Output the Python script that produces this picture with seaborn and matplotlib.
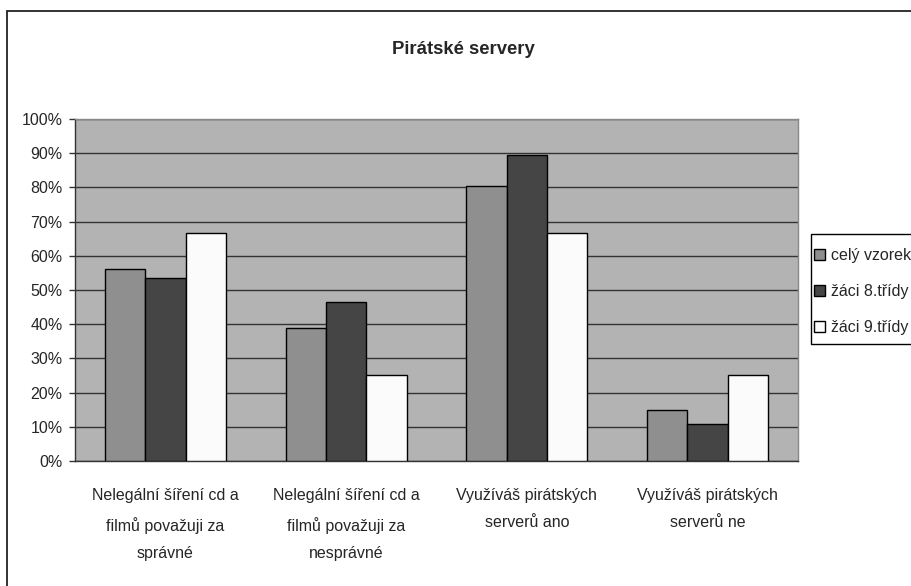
import matplotlib
matplotlib.use("Agg")
import matplotlib.pyplot as plt
import seaborn as sns
import pandas as pd
from matplotlib.patches import Rectangle
from matplotlib.ticker import FuncFormatter, FixedLocator

# data
categories = [
    "Nelegální šíření cd a\nfilmů považuji za\nsprávné",
    "Nelegální šíření cd a\nfilmů považuji za\nnesprávné",
    "Využíváš pirátských\nserverů ano",
    "Využíváš pirátských\nserverů ne",
]
series_names = ["celý vzorek", "žáci 8.třídy", "žáci 9.třídy"]
cely_vzorek = [56.1, 38.8, 80.5, 14.8]
zaci_8 = [53.6, 46.5, 89.4, 10.8]
zaci_9 = [66.7, 25.0, 66.7, 25.0]

rows = []
for name, vals in zip(series_names, [cely_vzorek, zaci_8, zaci_9]):
    for cat, v in zip(categories, vals):
        rows.append({"kategorie": cat, "skupina": name, "hodnota": v})
df = pd.DataFrame(rows)

sns.set_style("white")
plt.rcParams["font.family"] = ["Liberation Sans", "DejaVu Sans"]

fig = plt.figure(figsize=(9.11, 5.86), dpi=100)
ax = fig.add_axes([0.0823, 0.2133, 0.7937, 0.5837])
ax.set_facecolor("#b3b3b3")

barvy = ["#8f8f8f", "#454545", "#fbfbfb"]
sns.barplot(data=df, x="kategorie", y="hodnota", hue="skupina",
            palette=barvy, width=0.67, gap=0, edgecolor="black",
            linewidth=1, saturation=1, ax=ax, legend=False, zorder=3)

ax.set_ylim(0, 100)
ax.set_xlim(-0.5, 3.5)
ax.yaxis.set_major_locator(FixedLocator(range(0, 101, 10)))
ax.yaxis.set_major_formatter(FuncFormatter(lambda v, p: f"{int(v)}%"))
ax.grid(axis="y", color="#333333", linewidth=1, zorder=0)
ax.set_axisbelow(True)
ax.set_xlabel("")
ax.set_ylabel("")

# ticks between the categories
ax.set_xticks([-0.5, 0.5, 1.5, 2.5, 3.5])
ax.set_xticklabels([])
ax.set_xticks(range(4), minor=True)
ax.set_xticklabels(categories, minor=True, fontsize=11.5, linespacing=2.0)
ax.tick_params(axis="x", which="major", direction="out", length=6, width=1, color="#333333")
ax.tick_params(axis="x", which="minor", length=0, pad=19.5)
ax.tick_params(axis="y", direction="out", length=4, width=1, color="#333333",
               labelsize=11.5, left=True, pad=5)

for side in ["left", "bottom"]:
    ax.spines[side].set_color("#333333")
    ax.spines[side].set_linewidth(1)
for side in ["top", "right"]:
    ax.spines[side].set_color("#888888")
    ax.spines[side].set_linewidth(1)

fig.text(0.509, 0.915, "Pirátské servery", ha="center", va="center",
         fontsize=13.3, fontweight="bold")

# legend without its own frame, box drawn separately (runs past the right edge)
handles = [Rectangle((0, 0), 1, 1, facecolor=c, edgecolor="black", linewidth=1) for c in barvy]
leg = fig.legend(handles, series_names, loc="upper left",
                 bbox_to_anchor=(0.8902, 0.5823), frameon=False,
                 fontsize=11.5, handlelength=0.66, handleheight=0.66,
                 handletextpad=0.4, labelspacing=1.31,
                 borderpad=0.2, borderaxespad=0)
fig.patches.append(Rectangle((0.8902, 1 - 344 / 586), 0.2, 110 / 586,
                             transform=fig.transFigure, facecolor="white",
                             edgecolor="black", linewidth=1, zorder=0))

# outer frame (right and bottom edges fall outside the image)
fig.patches.append(Rectangle((0.0082, -0.05), 1.2, 1.032, transform=fig.transFigure,
                             fill=False, edgecolor="#222222", linewidth=1.3))

fig.savefig("out.png", dpi=100)
